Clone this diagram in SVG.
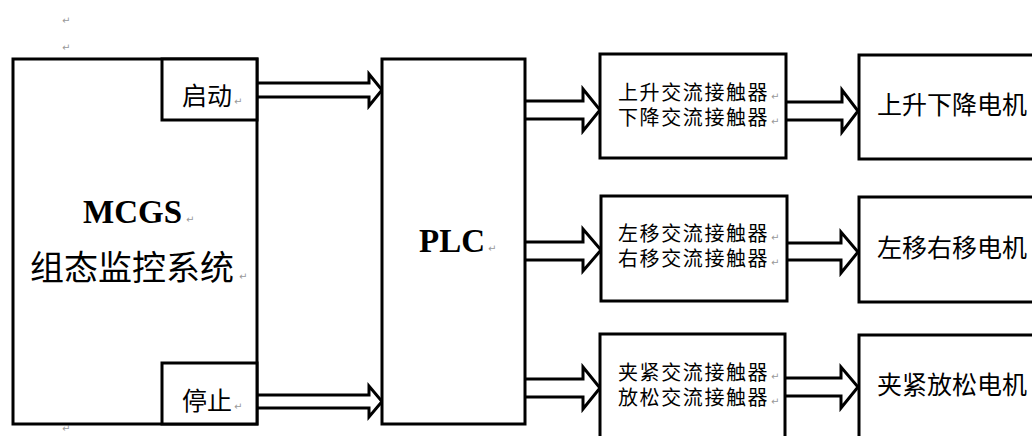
<svg xmlns="http://www.w3.org/2000/svg" width="1032" height="436" viewBox="0 0 1032 436">
<style>
.box{fill:#fff;stroke:#000;stroke-width:3}
.arr{fill:#fff;stroke:#000;stroke-width:3;stroke-linejoin:miter}
.t{font-family:"Liberation Serif","Noto Sans CJK SC",serif;fill:#000}
.b{font-weight:bold}
.pm{font-family:"DejaVu Sans",sans-serif;font-size:10px;fill:#999}
</style>
<rect width="1032" height="436" fill="#fff"/>
<text class="pm" x="62" y="24">↵</text>
<text class="pm" x="62" y="51">↵</text>
<text class="pm" x="62" y="432">↵</text>
<g id="connectors">
<path class="arr" d="M257,83 H369 V74 L382,90 L369,106 V97 H257"/>
<path class="arr" d="M257,395 H369 V386 L382,401.5 L369,417 V408 H257"/>
<path class="arr" d="M525,101 H583 V89 L600,110 L583,131 V119 H525"/>
<path class="arr" d="M525,242 H583 V229 L601,250 L583,271 V260 H525"/>
<path class="arr" d="M525,379 H583 V367 L600,388 L583,409 V397 H525"/>
<path class="arr" d="M786,102 H842 V90 L858,111 L842,132 V120 H786"/>
<path class="arr" d="M787,243 H841 V232 L858,252 L841,273 V260 H787"/>
<path class="arr" d="M785,378 H841 V367 L858,387 L841,408 V396 H785"/>
</g>
<g id="mcgs">
<rect class="box" x="13" y="59" width="244" height="365"/>
<text class="t b" x="83" y="223" font-size="33">MCGS</text>
<text class="pm" x="186" y="223">↵</text>
<text class="t" x="30" y="280" font-size="34">组态监控系统</text>
<text class="pm" x="239" y="280">↵</text>
</g>
<g id="start">
<rect class="box" x="162" y="59" width="95" height="61"/>
<text class="t" x="182" y="105" font-size="25">启动</text>
<text class="pm" x="234" y="105">↵</text>
</g>
<g id="stop">
<rect class="box" x="162" y="363" width="95" height="61"/>
<text class="t" x="182" y="410" font-size="25">停止</text>
<text class="pm" x="234" y="410">↵</text>
</g>
<g id="plc">
<rect class="box" x="382" y="59" width="143" height="365"/>
<text class="t b" x="419" y="252" font-size="33">PLC</text>
<text class="pm" x="488" y="252">↵</text>
</g>
<g id="c1">
<rect class="box" x="600" y="54" width="186" height="104"/>
<text class="t" x="618" y="100" font-size="20" letter-spacing="1.6">上升交流接触器</text>
<text class="pm" x="771" y="100">↵</text>
<text class="t" x="618" y="125" font-size="20" letter-spacing="1.6">下降交流接触器</text>
<text class="pm" x="771" y="125">↵</text>
</g>
<g id="c2">
<rect class="box" x="601" y="196" width="186" height="105"/>
<text class="t" x="618" y="241" font-size="20" letter-spacing="1.6">左移交流接触器</text>
<text class="pm" x="771" y="241">↵</text>
<text class="t" x="618" y="266" font-size="20" letter-spacing="1.6">右移交流接触器</text>
<text class="pm" x="771" y="266">↵</text>
</g>
<g id="c3">
<rect class="box" x="600" y="334" width="185" height="120"/>
<text class="t" x="618" y="380" font-size="20" letter-spacing="1.6">夹紧交流接触器</text>
<text class="pm" x="771" y="380">↵</text>
<text class="t" x="618" y="405" font-size="20" letter-spacing="1.6">放松交流接触器</text>
<text class="pm" x="771" y="405">↵</text>
</g>
<g id="m1">
<rect class="box" x="859" y="55" width="200" height="104"/>
<text class="t" x="877" y="114" font-size="25">上升下降电机</text>
</g>
<g id="m2">
<rect class="box" x="859" y="197" width="200" height="105"/>
<text class="t" x="877" y="257" font-size="25">左移右移电机</text>
</g>
<g id="m3">
<rect class="box" x="859" y="335" width="200" height="120"/>
<text class="t" x="877" y="394" font-size="25">夹紧放松电机</text>
</g>
</svg>
